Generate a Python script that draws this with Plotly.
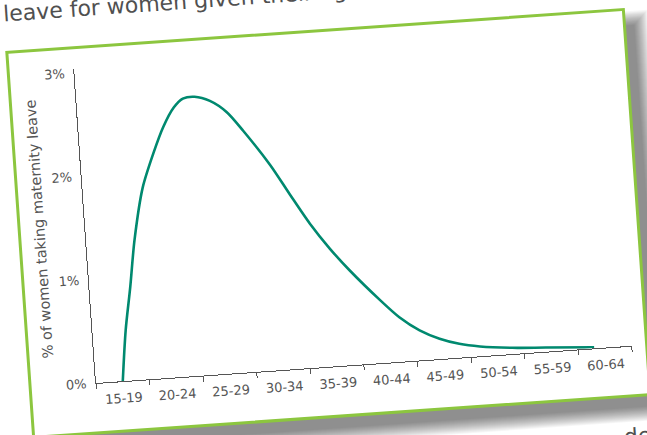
import plotly.graph_objects as go

# ---- data ----
age_bands = ["15-19", "20-24", "25-29", "30-34", "35-39", "40-44", "45-49", "50-54", "55-59", "60-64"]
band_starts = [15, 20, 25, 30, 35, 40, 45, 50, 55, 60, 65]
band_centres = [17.5, 22.5, 27.5, 32.5, 37.5, 42.5, 47.5, 52.5, 57.5, 62.5]
curve_age = [17.5, 18.1, 18.8, 19.5, 20.6, 21.8, 22.9, 24.0, 24.9, 26.0, 27.4, 28.9, 30.3,
             32.6, 34.2, 35.9, 37.6, 39.3, 41.9, 43.6, 45.4, 47.2, 49.0, 50.9, 53.9, 57.0, 61.5]
curve_pct = [0.0, 0.49, 0.90, 1.35, 1.85, 2.17, 2.42, 2.60, 2.68, 2.69, 2.64, 2.52, 2.33,
             1.98, 1.69, 1.39, 1.135, 0.913, 0.61, 0.43, 0.29, 0.196, 0.134, 0.095, 0.06, 0.04, 0.01]
y_ticks = [0, 1, 2, 3]
y_ticktext = ["0%", "1%", "2%", "3%"]

# ---- layout constants ----
W, H = 760, 560
OX, OY = 130, 420           # axis origin inside the (unrotated) figure
PW, PH = 537.3, 315.2       # plot area size
ANGLE = -3.98               # page rotation (deg)
SCREEN_O = (96, 382.7)      # where the origin lands on screen

FONT = "DejaVu Sans"
TXT = "#555555"
GREEN = "#8cc63f"
TEAL = "#00896f"

fig = go.Figure()
fig.add_trace(go.Scatter(
    x=curve_age, y=curve_pct, mode="lines",
    line=dict(color=TEAL, width=2.6, shape="spline", smoothing=0.8),
    hoverinfo="skip", showlegend=False,
))

# frame (pixel offsets from plot-area origin, y upward)
FL, FR, FB, FT = -66, 552, -50, 336
shapes = []
for k in range(14, -1, -1):
    shapes.append(dict(
        type="rect", xref="paper", yref="paper", xsizemode="pixel", ysizemode="pixel",
        xanchor=0, yanchor=0, layer="below",
        x0=FL + 22 - k, x1=FR + 10 + k, y0=FB - 12 - k, y1=FT - 16 + k,
        line=dict(width=0), fillcolor="rgba(0,0,0,0.034)",
    ))
shapes.append(dict(
    type="rect", xref="paper", yref="paper", xsizemode="pixel", ysizemode="pixel",
    xanchor=0, yanchor=0, layer="below",
    x0=FL, x1=FR, y0=FB, y1=FT,
    line=dict(width=3, color=GREEN), fillcolor="white",
))

annotations = [
    dict(text="leave for women given their age", xref="paper", yref="paper", x=0, y=1,
         xshift=-69, yshift=60, xanchor="left", yanchor="middle", showarrow=False,
         font=dict(family=FONT, size=22, color="#505050")),
    dict(text="de", xref="paper", yref="paper", x=0, y=0,
         xshift=521, yshift=-76, xanchor="left", yanchor="top", showarrow=False,
         font=dict(family=FONT, size=22, color="#505050")),
]

fig.update_layout(
    width=W, height=H,
    margin=dict(l=OX, r=W - OX - PW, t=OY - PH, b=H - OY, autoexpand=False),
    paper_bgcolor="white", plot_bgcolor="rgba(0,0,0,0)",
    font=dict(family=FONT, color=TXT, size=13),
    shapes=shapes, annotations=annotations,
    xaxis=dict(
        range=[band_starts[0], band_starts[-1]], tickmode="array",
        tickvals=band_centres, ticktext=age_bands, ticks="",
        ticklabelstandoff=5,
        showline=True, linecolor=TXT, linewidth=1, showgrid=False, zeroline=False,
        tickfont=dict(size=13, color=TXT),
        minor=dict(tickmode="array", tickvals=band_starts, ticks="outside",
                   ticklen=5, tickcolor=TXT, tickwidth=1, showgrid=False),
        fixedrange=True,
    ),
    yaxis=dict(
        range=[0, 3.04], tickmode="array", tickvals=y_ticks, ticktext=y_ticktext,
        ticks="", ticklabelstandoff=6,
        showline=True, linecolor=TXT, linewidth=1, showgrid=False, zeroline=False,
        tickfont=dict(size=13, color=TXT),
        title=dict(text="% of women taking maternity leave", standoff=6,
                   font=dict(size=14.5, color=TXT)),
        fixedrange=True,
    ),
)

left = SCREEN_O[0] - OX
top = SCREEN_O[1] - OY
post = f"""
var gd = document.getElementById('{{plot_id}}');
document.documentElement.style.overflow = 'hidden';
document.body.style.margin = '0';
document.body.style.overflow = 'hidden';
document.body.style.background = 'white';
gd.style.position = 'absolute';
gd.style.left = '{left}px';
gd.style.top = '{top}px';
gd.style.transformOrigin = '{OX}px {OY}px';
gd.style.transform = 'rotate({ANGLE}deg)';
"""

fig.write_html("out.html", config={"displayModeBar": False, "staticPlot": True}, post_script=post)
